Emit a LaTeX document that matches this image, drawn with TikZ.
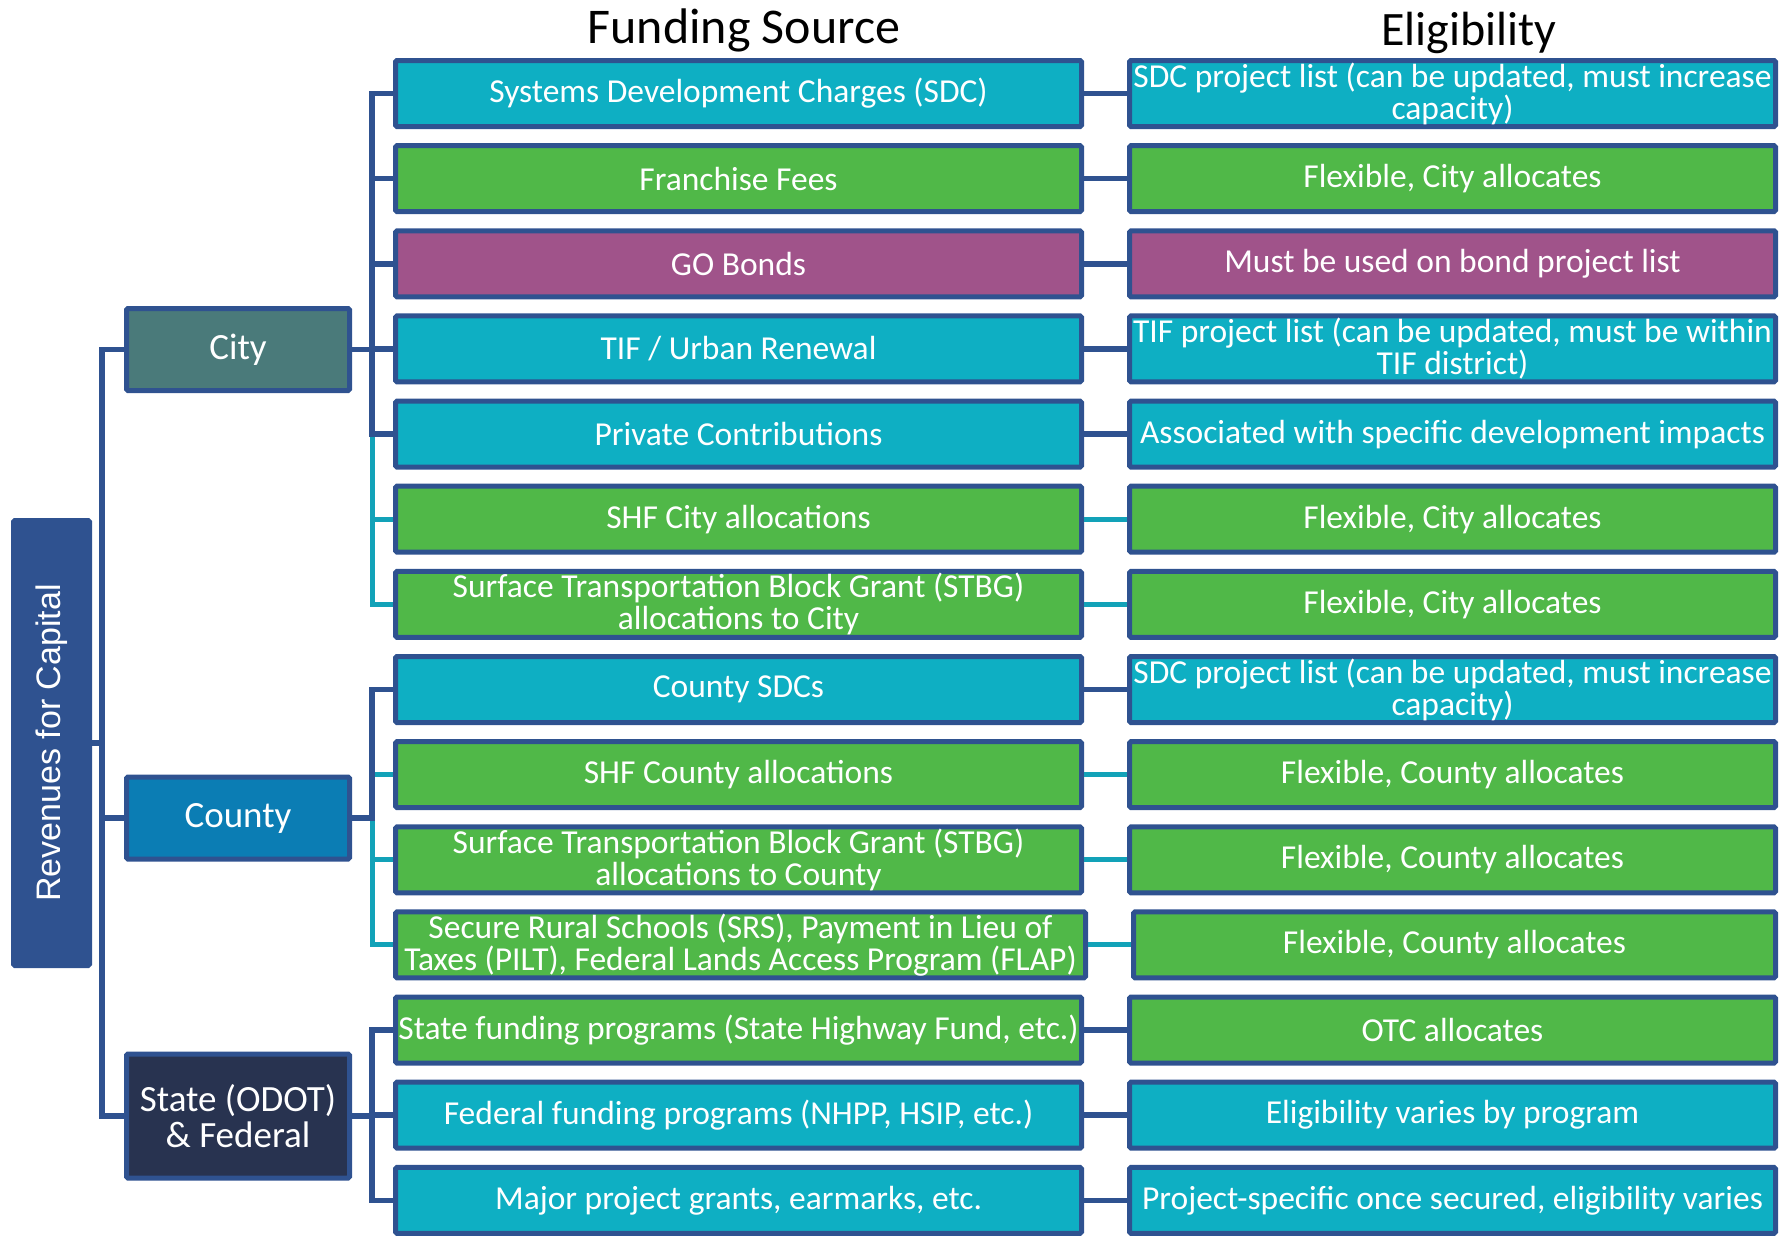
\documentclass[tikz,border=0pt]{standalone}
\usepackage{fontspec}
\setmainfont{Carlito}
\newfontfamily\rootfont{Liberation Sans}
\usepackage{tikz}
\usepackage{xcolor}
\definecolor{vborder}{HTML}{2F5290}
\definecolor{vteal}{HTML}{0EAFC3}
\definecolor{vtealline}{HTML}{12A2B8}
\definecolor{vgreen}{HTML}{50B848}
\definecolor{vpurple}{HTML}{A0538A}
\definecolor{vcity}{HTML}{4A7A7A}
\definecolor{vcounty}{HTML}{0B7DB4}
\definecolor{vstate}{HTML}{283350}
\newcommand{\srcfont}{\fontsize{33.5}{32}\selectfont}
\newcommand{\grpfont}{\fontsize{37}{36}\selectfont}
\newcommand{\headfont}{\fontsize{50}{52}\selectfont}

\begin{document}
\begin{tikzpicture}[x=1pt, y=-1pt,
		box/.style={draw=vborder, line width=5pt, inner sep=0pt, text=white, align=center, rounded corners=1.5pt},
		src/.style={box, font=\srcfont, minimum width=686pt, minimum height=66pt},
		elig/.style={box, font=\srcfont, minimum width=646pt, minimum height=66pt},
		grp/.style={box, font=\grpfont, minimum width=223pt, minimum height=82pt},
		link/.style={draw=vborder, line width=5.5pt},
		tlink/.style={draw=vtealline, line width=5pt}]
		\useasboundingbox (0,0) rectangle (1780,1235);
		% headings
		\node[font=\headfont, anchor=base] (hsrc) at (744,43) {Funding Source};
		\node[font=\fontsize{48}{50}\selectfont, anchor=base] (helig) at (1469,45) {Eligibility};
		% root and groups
		\node[box, fill=vborder, minimum width=76pt, minimum height=445pt] (root) at (51.5,743) {\rootfont\fontsize{34}{36}\selectfont\rotatebox{90}{Revenues for Capital}};
		\node[grp, fill=vcity] (city) at (238,349.5) {City};
		\node[grp, fill=vcounty] (county) at (238,818) {County};
		\node[grp, fill=vstate, minimum height=124pt] (state) at (238,1116) {State (ODOT)\\\& Federal};
		% funding sources
		\node[src, fill=vteal] (s1) at (738.5,93.5) {Systems Development Charges (SDC)};
		\node[src, fill=vgreen] (s2) at (738.5,178.6) {Franchise Fees};
		\node[src, fill=vpurple] (s3) at (738.5,263.8) {GO Bonds};
		\node[src, fill=vteal] (s4) at (738.5,348.9) {TIF / Urban Renewal};
		\node[src, fill=vteal] (s5) at (738.5,434.1) {Private Contributions};
		\node[src, fill=vgreen] (s6) at (738.5,519.2) {SHF City allocations};
		\node[src, fill=vgreen] (s7) at (738.5,604.3) {Surface Transportation Block Grant (STBG)\\allocations to City};
		\node[src, fill=vteal] (s8) at (738.5,689.5) {County SDCs};
		\node[src, fill=vgreen] (s9) at (738.5,774.6) {SHF County allocations};
		\node[src, fill=vgreen] (s10) at (738.5,859.8) {Surface Transportation Block Grant (STBG)\\allocations to County};
		\node[src, fill=vgreen, minimum width=690pt] (s11) at (740.5,944.9) {Secure Rural Schools (SRS), Payment in Lieu of\\Taxes (PILT), Federal Lands Access Program (FLAP)};
		\node[src, fill=vgreen] (s12) at (738.5,1030.0) {State funding programs (State Highway Fund, etc.)};
		\node[src, fill=vteal] (s13) at (738.5,1115.2) {Federal funding programs (NHPP, HSIP, etc.)};
		\node[src, fill=vteal] (s14) at (738.5,1200.3) {Major project grants, earmarks, etc.};
		% eligibility
		\node[elig, fill=vteal] (e1) at (1452.5,93.5) {SDC project list (can be updated, must increase\\capacity)};
		\node[elig, fill=vgreen] (e2) at (1452.5,178.6) {Flexible, City allocates};
		\node[elig, fill=vpurple] (e3) at (1452.5,263.8) {Must be used on bond project list};
		\node[elig, fill=vteal] (e4) at (1452.5,348.9) {TIF project list (can be updated, must be within\\TIF district)};
		\node[elig, fill=vteal] (e5) at (1452.5,434.1) {Associated with specific development impacts};
		\node[elig, fill=vgreen] (e6) at (1452.5,519.2) {Flexible, City allocates};
		\node[elig, fill=vgreen] (e7) at (1452.5,604.3) {Flexible, City allocates};
		\node[elig, fill=vteal] (e8) at (1452.5,689.5) {SDC project list (can be updated, must increase\\capacity)};
		\node[elig, fill=vgreen] (e9) at (1452.5,774.6) {Flexible, County allocates};
		\node[elig, fill=vgreen] (e10) at (1452.5,859.8) {Flexible, County allocates};
		\node[elig, fill=vgreen, minimum width=642pt] (e11) at (1454.5,944.9) {Flexible, County allocates};
		\node[elig, fill=vgreen] (e12) at (1452.5,1030.0) {OTC allocates};
		\node[elig, fill=vteal] (e13) at (1452.5,1115.2) {Eligibility varies by program};
		\node[elig, fill=vteal] (e14) at (1452.5,1200.3) {Project-specific once secured, eligibility varies};
		% root to groups
		\draw[link] (root.east) -- ++(10,0) |- (city.west);
		\draw[link] (root.east) -- ++(10,0) |- (county.west);
		\draw[link] (root.east) -- ++(10,0) |- (state.west);
		% groups to sources (teal first, blue on top)
		\draw[tlink] (city.east) -- ++(20,0) |- (s6.west);
		\draw[tlink] (city.east) -- ++(20,0) |- (s7.west);
		\draw[tlink] (county.east) -- ++(20,0) |- (s9.west);
		\draw[tlink] (county.east) -- ++(20,0) |- (s10.west);
		\draw[tlink] (county.east) -- ++(20,0) |- (s11.west);
		\draw[link] (city.east) -- ++(20,0) |- (s1.west);
		\draw[link] (city.east) -- ++(20,0) |- (s2.west);
		\draw[link] (city.east) -- ++(20,0) |- (s3.west);
		\draw[link] (city.east) -- ++(20,0) |- (s4.west);
		\draw[link] (city.east) -- ++(20,0) |- (s5.west);
		\draw[link] (county.east) -- ++(20,0) |- (s8.west);
		\draw[link] (state.east) -- ++(20,0) |- (s12.west);
		\draw[link] (state.east) -- ++(20,0) |- (s13.west);
		\draw[link] (state.east) -- ++(20,0) |- (s14.west);
		% sources to eligibility
		\draw[link] (s1.east) -- (e1.west);
		\draw[link] (s2.east) -- (e2.west);
		\draw[link] (s3.east) -- (e3.west);
		\draw[link] (s4.east) -- (e4.west);
		\draw[link] (s5.east) -- (e5.west);
		\draw[tlink] (s6.east) -- (e6.west);
		\draw[tlink] (s7.east) -- (e7.west);
		\draw[link] (s8.east) -- (e8.west);
		\draw[tlink] (s9.east) -- (e9.west);
		\draw[tlink] (s10.east) -- (e10.west);
		\draw[tlink] (s11.east) -- (e11.west);
		\draw[link] (s12.east) -- (e12.west);
		\draw[link] (s13.east) -- (e13.west);
		\draw[link] (s14.east) -- (e14.west);
	\end{tikzpicture}
\end{document}
